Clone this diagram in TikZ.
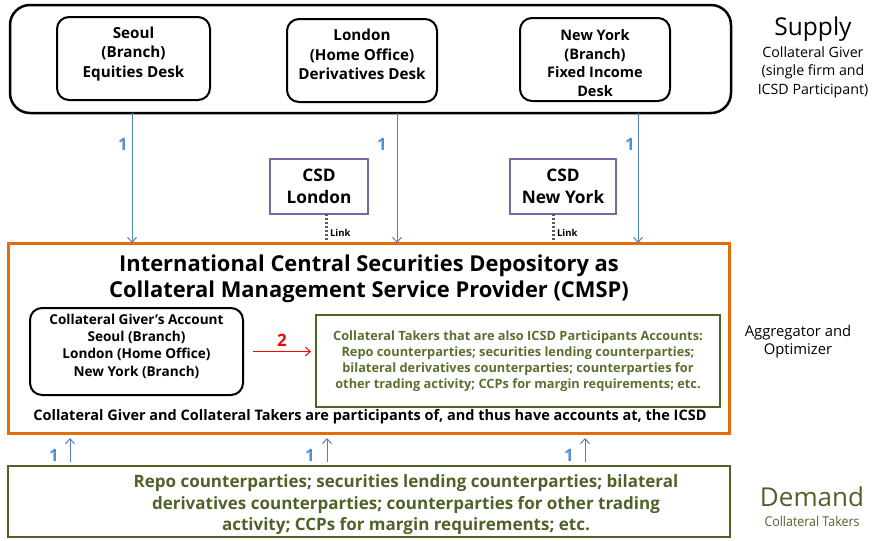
\documentclass[tikz,border=0pt]{standalone}
\usepackage{fontspec}
\setmainfont{Open Sans}
\usetikzlibrary{arrows.meta}
\definecolor{cblue}{HTML}{4F81BD}
\definecolor{clabel}{HTML}{558ED5}
\definecolor{cpurple}{HTML}{8064A2}
\definecolor{corange}{HTML}{E46C0A}
\definecolor{cgreen}{HTML}{4F6228}
\definecolor{cgtext}{HTML}{5A7030}
\definecolor{clink}{HTML}{595959}
\begin{document}
\begin{tikzpicture}[x=1pt,y=-1pt,
  every node/.style={inner sep=0pt,outer sep=0pt},
  bigbox/.style={draw=black,line width=2.5pt,rounded corners=20pt},
  deskbox/.style={draw=black,line width=2pt,rounded corners=12pt},
  desktext/.style={align=center,font=\bfseries\fontsize{15.2}{19.5}\selectfont},
  csdbox/.style={draw=cpurple,line width=2.5pt,align=center,font=\bfseries\fontsize{17.3}{22}\selectfont},
  icsdbox/.style={draw=corange,line width=3pt},
  greenbox/.style={draw=cgreen,line width=2.5pt},
  supplyarr/.style={draw=cblue,line width=1pt,-{Straight Barb[length=5pt,width=9pt]}},
  demandarr/.style={draw=cblue,line width=1pt,-{Straight Barb[length=5pt,width=9pt]},shorten >=5pt,shorten <=4pt},
  numlabel/.style={text=clabel,font=\bfseries\fontsize{17}{20}\selectfont},
  linkline/.style={draw=clink,line width=3pt,dash pattern=on 2pt off 2pt},
  linklabel/.style={font=\bfseries\fontsize{9.5}{11}\selectfont,anchor=west},
  sidetitle/.style={font=\fontsize{24.5}{28}\selectfont},
  sidetext/.style={align=center,font=\fontsize{14.2}{18.5}\selectfont}
]
\useasboundingbox (0,0) rectangle (879,541);

% Supply
\node[bigbox,minimum width=721pt,minimum height=108pt] (supply) at (370.5,59) {};
\node[deskbox,minimum width=153pt,minimum height=83pt] (seoul) at (133.5,58.5) {};
\node[desktext] (seoult) at (133.5,54) {Seoul\\(Branch)\\Equities Desk};
\node[deskbox,minimum width=150pt,minimum height=83pt] (london) at (362,60.5) {};
\node[desktext] (londont) at (362,54.5) {London\\(Home Office)\\Derivatives Desk};
\node[deskbox,minimum width=150pt,minimum height=83pt] (newyork) at (595,59.5) {};
\node[desktext,font=\bfseries\fontsize{14.5}{18.7}\selectfont] (newyorkt) at (595,63) {New York\\(Branch)\\Fixed Income\\Desk};

\node[sidetitle] (supplyt) at (813,29) {Supply};
\node[sidetext] (supplys) at (813,72) {Collateral Giver\\(single firm and\\ICSD Participant)};

% CSDs
\node[csdbox,minimum width=98pt,minimum height=55pt] (csdL) at (319,186.5) {CSD\\London};
\node[csdbox,minimum width=106pt,minimum height=55pt] (csdN) at (563,186.5) {CSD\\New York};

% ICSD
\node[icsdbox,minimum width=721pt,minimum height=190pt] (icsd) at (368.5,338) {};
\node[align=center,font=\bfseries\fontsize{21.9}{26}\selectfont] (title) at (369,279) {International Central Securities Depository as\\Collateral Management Service Provider (CMSP)};
\node[deskbox,minimum width=213pt,minimum height=87pt] (giver) at (136.5,351.5) {};
\node[desktext,font=\bfseries\fontsize{13.6}{17.3}\selectfont] (givert) at (136.5,346) {Collateral Giver’s Account\\Seoul (Branch)\\London (Home Office)\\New York (Branch)};
\node[greenbox,minimum width=404pt,minimum height=92pt,align=center,text=cgtext,font=\bfseries\fontsize{12.8}{16}\selectfont] (takers) at (518,361) {Collateral Takers that are also ICSD Participants Accounts:\\Repo counterparties; securities lending counterparties;\\bilateral derivatives counterparties; counterparties for\\other trading activity; CCPs for margin requirements; etc.};
\node[font=\bfseries\fontsize{14.5}{16}\selectfont] (note) at (370,417) {Collateral Giver and Collateral Takers are participants of, and thus have accounts at, the ICSD};
\node[sidetext,font=\fontsize{14.8}{18}\selectfont] (aggr) at (798,342) {Aggregator and\\Optimizer};

% Demand
\node[greenbox,minimum width=722pt,minimum height=71pt] (demand) at (369,501.5) {};
\node[align=center,text=cgreen,font=\bfseries\fontsize{17}{21.5}\selectfont] (demandt) at (406,505) {Repo counterparties; securities lending counterparties; bilateral\\derivatives counterparties; counterparties for other trading\\activity; CCPs for margin requirements; etc.};
\node[sidetitle,text=cgreen,font=\fontsize{26}{28}\selectfont] (demandh) at (812,497) {Demand};
\node[text=cgreen,font=\fontsize{13.5}{15}\selectfont] (demands) at (812,521) {\scalebox{0.92}[1]{Collateral Takers}};

% supply arrows
\coordinate (s1) at (132,0);
\coordinate (s2) at (397,0);
\coordinate (s3) at (638,0);
\draw[supplyarr] (s1 |- supply.south) -- (s1 |- icsd.north);
\draw[supplyarr] (s2 |- supply.south) -- (s2 |- icsd.north);
\draw[supplyarr] (s3 |- supply.south) -- (s3 |- icsd.north);
\node[numlabel] (n1) at (123,144) {1};
\node[numlabel] (n2) at (382,144) {1};
\node[numlabel] (n3) at (630,144) {1};

% links
\coordinate (l1) at (326,0);
\coordinate (l2) at (553,0);
\draw[linkline] (l1 |- csdL.south) -- ([yshift=1.5pt]l1 |- icsd.north);
\draw[linkline] (l2 |- csdN.south) -- ([yshift=1.5pt]l2 |- icsd.north);
\node[linklabel] (lk1) at (330,233) {Link};
\node[linklabel] (lk2) at (557,233) {Link};

% red arrow
\draw[draw=red,line width=1pt,-{Straight Barb[length=5pt,width=9pt]},shorten <=10pt,shorten >=5pt] (giver.east) -- (giver.east -| takers.west);
\node[text=red,font=\bfseries\fontsize{17}{20}\selectfont] (two) at (282,340) {2};

% demand arrows
\coordinate (d1) at (70,0);
\coordinate (d2) at (327,0);
\coordinate (d3) at (585,0);
\draw[demandarr] (d1 |- demand.north) -- (d1 |- icsd.south);
\draw[demandarr] (d2 |- demand.north) -- (d2 |- icsd.south);
\draw[demandarr] (d3 |- demand.north) -- (d3 |- icsd.south);
\node[numlabel] (m1) at (54,455) {1};
\node[numlabel] (m2) at (310,455) {1};
\node[numlabel] (m3) at (569,455) {1};
\end{tikzpicture}
\end{document}
